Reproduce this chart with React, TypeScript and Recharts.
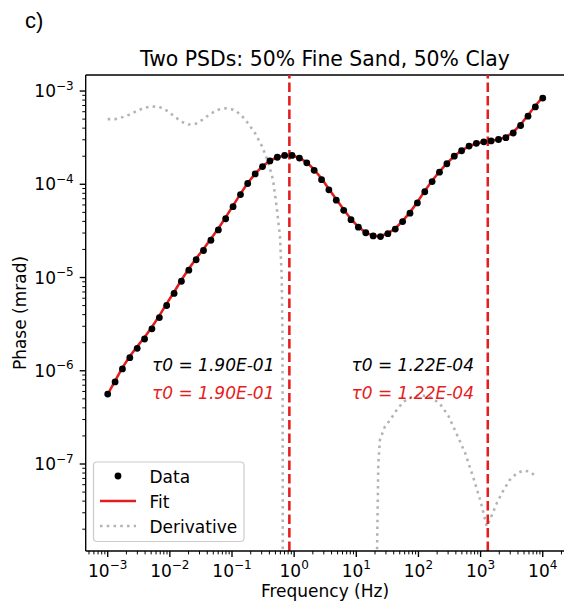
import React from 'react';
import { ComposedChart, Line, Scatter, XAxis, YAxis, ReferenceLine } from 'recharts';

// Frequencies (Hz) of the measured points
const FREQ = [
  1.0e-3, 1.315e-3, 1.726e-3, 2.27e-3, 2.985e-3, 3.92e-3, 5.15e-3, 6.78e-3, 8.89e-3, 1.17e-2,
  1.535e-2, 2.02e-2, 2.65e-2, 3.48e-2, 4.58e-2, 6.03e-2, 7.91e-2, 0.104, 0.137, 0.179,
  0.236, 0.31, 0.407, 0.536, 0.703, 0.925, 1.216, 1.596, 2.1, 2.76,
  3.62, 4.76, 6.27, 8.22, 10.8, 14.2, 18.7, 24.5, 32.2, 42.4,
  55.7, 73.1, 96.2, 126.5, 166, 218, 287, 377, 495, 652,
  855, 1125, 1476, 1941, 2553, 3350, 4406, 5794, 7603, 10000,
];

// Measured phase (mrad)
const PHASE_DATA = [
  5.62e-7, 7.59e-7, 1.047e-6, 1.38e-6, 1.74e-6, 2.19e-6, 2.82e-6, 3.72e-6, 5.01e-6, 6.76e-6,
  9.12e-6, 1.2e-5, 1.55e-5, 1.95e-5, 2.51e-5, 3.24e-5, 4.27e-5, 5.75e-5, 7.76e-5, 1.02e-4,
  1.29e-4, 1.55e-4, 1.78e-4, 1.95e-4, 2.04e-4, 2.04e-4, 1.91e-4, 1.7e-4, 1.41e-4, 1.12e-4,
  8.71e-5, 6.76e-5, 5.25e-5, 4.17e-5, 3.47e-5, 3.02e-5, 2.79e-5, 2.75e-5, 2.95e-5, 3.31e-5,
  3.98e-5, 4.9e-5, 6.31e-5, 8.32e-5, 1.07e-4, 1.35e-4, 1.66e-4, 2.0e-4, 2.29e-4, 2.57e-4,
  2.75e-4, 2.85e-4, 2.92e-4, 3.02e-4, 3.16e-4, 3.55e-4, 4.27e-4, 5.37e-4, 6.76e-4, 8.41e-4,
];

// Fitted phase (mrad)
const PHASE_FIT = [
  5.6e-7, 7.8e-7, 1.08e-6, 1.43e-6, 1.82e-6, 2.29e-6, 2.95e-6, 3.9e-6, 5.25e-6, 7.0e-6,
  9.4e-6, 1.24e-5, 1.6e-5, 2.02e-5, 2.6e-5, 3.36e-5, 4.42e-5, 5.9e-5, 7.9e-5, 1.03e-4,
  1.3e-4, 1.56e-4, 1.78e-4, 1.95e-4, 2.03e-4, 2.03e-4, 1.92e-4, 1.72e-4, 1.44e-4, 1.15e-4,
  8.9e-5, 6.9e-5, 5.35e-5, 4.22e-5, 3.49e-5, 3.03e-5, 2.8e-5, 2.77e-5, 2.98e-5, 3.36e-5,
  4.05e-5, 5.0e-5, 6.45e-5, 8.5e-5, 1.09e-4, 1.37e-4, 1.68e-4, 2.01e-4, 2.3e-4, 2.56e-4,
  2.74e-4, 2.85e-4, 2.93e-4, 3.03e-4, 3.2e-4, 3.62e-4, 4.38e-4, 5.5e-4, 6.95e-4, 8.6e-4,
];

// Derivative, low-frequency positive part
const DERIV_LOW_FREQ = [
  1.0e-3, 1.32e-3, 1.74e-3, 2.29e-3, 3.02e-3, 3.89e-3, 5.13e-3, 6.76e-3, 8.91e-3, 1.17e-2,
  1.55e-2, 2.0e-2, 2.63e-2, 3.47e-2, 4.57e-2, 6.03e-2, 7.94e-2, 0.105, 0.138, 0.178,
  0.234, 0.309, 0.38, 0.457, 0.525, 0.593, 0.631, 0.649, 0.655, 0.658,
];
const DERIV_LOW = [
  5.0e-4, 5.0e-4, 5.25e-4, 5.62e-4, 6.17e-4, 6.61e-4, 6.84e-4, 6.76e-4, 6.17e-4, 5.37e-4,
  4.68e-4, 4.37e-4, 4.47e-4, 5.0e-4, 5.75e-4, 6.31e-4, 6.53e-4, 6.31e-4, 5.62e-4, 4.57e-4,
  3.55e-4, 2.51e-4, 1.74e-4, 1.12e-4, 5.6e-5, 2.75e-5, 1.0e-5, 2.3e-6, 1.0e-7, 1e-9,
];

// Derivative, high-frequency positive part
const DERIV_HIGH_FREQ = [
  21.1, 21.6, 22.6, 24.0, 28.8, 34.7, 44.7, 57.5, 79.4, 104.7,
  151, 219, 302, 407, 562, 759, 1000, 1259, 1514, 1820,
  2344, 2951, 3802, 4898, 6026, 7413,
];
const DERIV_HIGH = [
  1e-9, 1.26e-8, 1.0e-7, 1.82e-7, 2.51e-7, 2.95e-7, 3.8e-7, 4.68e-7, 5.25e-7, 5.5e-7,
  5.25e-7, 4.47e-7, 3.31e-7, 2.14e-7, 1.32e-7, 7.24e-8, 3.98e-8, 2.14e-8, 2.82e-8, 3.8e-8,
  5.25e-8, 6.76e-8, 7.94e-8, 8.51e-8, 8.32e-8, 7.59e-8,
];

const TAU0_LABELS = ['1.90E-01', '1.22E-04'];
const TAU0 = [1.9e-1, 1.22e-4];

const X_MAJOR_EXP = [-3, -2, -1, 0, 1, 2, 3, 4];
const Y_MAJOR_EXP = [-7, -6, -5, -4, -3];

const X_DOMAIN: [number, number] = [Math.pow(10, -3.354), Math.pow(10, 4.342)];
const Y_DOMAIN: [number, number] = [Math.pow(10, -7.933), Math.pow(10, -2.828)];

const RED = '#e41e1e';
const GRAY = '#b3b3b3';
const FONT = "'DejaVu Sans', sans-serif";

function buildTicks(domain: [number, number]) {
  const out: number[] = [];
  const lo = Math.floor(Math.log10(domain[0]));
  const hi = Math.ceil(Math.log10(domain[1]));
  for (let e = lo; e <= hi; e++) {
    for (let m = 1; m <= 9; m++) {
      const v = m * Math.pow(10, e);
      if (v >= domain[0] && v <= domain[1]) out.push(v);
    }
  }
  return out;
}
const X_TICKS = buildTicks(X_DOMAIN);
const Y_TICKS = buildTicks(Y_DOMAIN);

function expInfo(v: number) {
  const l = Math.log10(v);
  const e = Math.round(l);
  return { e, major: Math.abs(l - e) < 1e-6 };
}
const fmtExp = (e: number) => (e < 0 ? '\u2212' + String(-e) : String(e));

const AXIS_Y = 551;
const AXIS_X = 85.7;

const XTick = (props: any) => {
  const { x, payload } = props;
  const y = AXIS_Y;
  const { e, major } = expInfo(payload.value);
  return (
    <g>
      <line x1={x} x2={x} y1={y} y2={y + (major ? 6 : 3.4)} stroke="#000" strokeWidth={major ? 1.36 : 1.0} />
      {major && X_MAJOR_EXP.includes(e) && (
        <text x={x} y={y + 25.5} textAnchor="middle" fontFamily={FONT} fontSize={17} fill="#000">
          <tspan>10</tspan>
          <tspan dy={-7.5} fontSize={12}>{fmtExp(e)}</tspan>
        </text>
      )}
    </g>
  );
};

const YTick = (props: any) => {
  const { y, payload } = props;
  const x = AXIS_X;
  const { e, major } = expInfo(payload.value);
  return (
    <g>
      <line x1={x} x2={x - (major ? 6 : 3.4)} y1={y} y2={y} stroke="#000" strokeWidth={major ? 1.36 : 1.0} />
      {major && Y_MAJOR_EXP.includes(e) && (
        <text x={x - 12} y={y + 6} textAnchor="end" fontFamily={FONT} fontSize={17} fill="#000">
          <tspan>10</tspan>
          <tspan dy={-7.5} fontSize={12}>{fmtExp(e)}</tspan>
        </text>
      )}
    </g>
  );
};

export default function App() {
  const dataPts = FREQ.map((f, i) => ({ f, v: PHASE_DATA[i] }));
  const fitPts = FREQ.map((f, i) => ({ f, v: PHASE_FIT[i] }));
  const dLow = DERIV_LOW_FREQ.map((f, i) => ({ f, v: DERIV_LOW[i] }));
  const dHigh = DERIV_HIGH_FREQ.map((f, i) => ({ f, v: DERIV_HIGH[i] }));
  const tauFreqs = TAU0.map((t) => 1 / (2 * Math.PI * t));

  return (
    <div style={{ position: 'absolute', left: 0, top: 0, width: 564, height: 603, background: '#fff' }}>
      <ComposedChart width={564} height={603} margin={{ top: 75, right: 0, bottom: 22, left: 25.7 }}>
        <XAxis
          dataKey="f"
          type="number"
          scale="log"
          domain={X_DOMAIN}
          allowDataOverflow
          ticks={X_TICKS}
          interval={0}
          height={30}
          tickSize={0}
          tickMargin={0}
          tickLine={false}
          axisLine={{ stroke: '#000', strokeWidth: 1.36 }}
          tick={(p: any) => <XTick {...p} />}
        />
        <YAxis
          dataKey="v"
          type="number"
          scale="log"
          domain={Y_DOMAIN}
          allowDataOverflow
          ticks={Y_TICKS}
          interval={0}
          width={60}
          tickSize={0}
          tickMargin={0}
          tickLine={false}
          axisLine={{ stroke: '#000', strokeWidth: 1.36 }}
          tick={(p: any) => <YTick {...p} />}
        />
        <ReferenceLine y={Y_DOMAIN[1]} stroke="#000" strokeWidth={1.36} ifOverflow="visible" />
        <Scatter
          data={dataPts}
          dataKey="v"
          isAnimationActive={false}
          shape={(p: any) => <circle cx={p.cx} cy={p.cy} r={3.4} fill="#000" />}
        />
        <Line data={fitPts} dataKey="v" type="linear" stroke={RED} strokeWidth={2.55} dot={false} isAnimationActive={false} />
        <Line data={dLow} dataKey="v" type="linear" stroke={GRAY} strokeWidth={2.55} strokeDasharray="2.55 4.2" dot={false} isAnimationActive={false} />
        <Line data={dHigh} dataKey="v" type="linear" stroke={GRAY} strokeWidth={2.55} strokeDasharray="2.55 4.2" dot={false} isAnimationActive={false} />
        {tauFreqs.map((f, i) => (
          <ReferenceLine key={i} x={f} stroke={RED} strokeWidth={2.55} strokeDasharray="9.4 4.1" />
        ))}
      </ComposedChart>
      <svg width={564} height={603} style={{ position: 'absolute', left: 0, top: 0, pointerEvents: 'none' }}>
        <text x={25} y={28} fontFamily="'Liberation Sans', Arial, sans-serif" fontSize={22} fill="#000">c)</text>
        <text x={325} y={66} textAnchor="middle" fontFamily={FONT} fontSize={20.4} fill="#000">
          Two PSDs: 50% Fine Sand, 50% Clay
        </text>
        <text x={325} y={596.5} textAnchor="middle" fontFamily={FONT} fontSize={17} fill="#000">Frequency (Hz)</text>
        <text x={25.5} y={313} textAnchor="middle" fontFamily={FONT} fontSize={17} fill="#000" transform="rotate(-90 25.5 313)">
          Phase (mrad)
        </text>
        <text x={152} y={370.5} fontFamily={FONT} fontStyle="italic" fontSize={17} fill="#000">{'\u03c40 = ' + TAU0_LABELS[0]}</text>
        <text x={152} y={399} fontFamily={FONT} fontStyle="italic" fontSize={17} fill={RED}>{'\u03c40 = ' + TAU0_LABELS[0]}</text>
        <text x={351.5} y={370.5} fontFamily={FONT} fontStyle="italic" fontSize={17} fill="#000">{'\u03c40 = ' + TAU0_LABELS[1]}</text>
        <text x={351.5} y={399} fontFamily={FONT} fontStyle="italic" fontSize={17} fill={RED}>{'\u03c40 = ' + TAU0_LABELS[1]}</text>
        <rect x={93.5} y={462} width={150.5} height={79.5} rx={3.5} fill="#fff" fillOpacity={0.8} stroke="#cccccc" strokeWidth={1.2} />
        <circle cx={118} cy={476} r={3.4} fill="#000" />
        <text x={149.5} y={482.5} fontFamily={FONT} fontSize={17} fill="#000">Data</text>
        <line x1={100} x2={136} y1={501} y2={501} stroke={RED} strokeWidth={2.55} />
        <text x={149.5} y={507.5} fontFamily={FONT} fontSize={17} fill="#000">Fit</text>
        <line x1={100} x2={136} y1={526} y2={526} stroke={GRAY} strokeWidth={2.55} strokeDasharray="2.55 4.2" />
        <text x={149.5} y={532.5} fontFamily={FONT} fontSize={17} fill="#000">Derivative</text>
      </svg>
    </div>
  );
}
